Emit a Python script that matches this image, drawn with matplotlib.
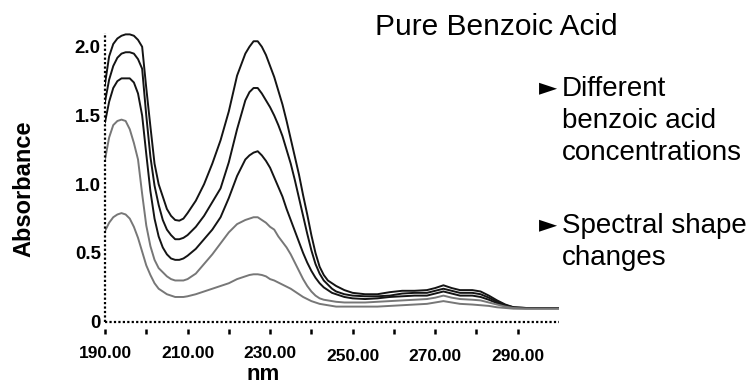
import matplotlib
matplotlib.use("Agg")
import matplotlib.pyplot as plt
import matplotlib.transforms as mtrans

plt.rcParams['font.family'] = ['Liberation Sans', 'DejaVu Sans']

# ---------------- data ----------------
wavelength = [190, 191, 192, 193, 194, 195, 196, 197, 198, 199, 200, 201, 202, 203, 204,
              205, 206, 207, 208, 209, 210,
              212, 214, 216, 218, 220, 222, 224,
              225, 226, 227, 228, 229, 230, 231, 232, 233, 234, 235, 236, 237, 238, 239,
              240, 241, 242, 243, 244, 245, 246,
              248,
              250, 253, 256, 259, 262, 265, 268, 270, 272, 274, 276, 279, 281, 283, 285,
              287, 289, 292, 296, 300]

conc_1 = [1.73, 1.93, 2.02, 2.06, 2.08, 2.09, 2.09, 2.08, 2.05, 2.00, 1.70, 1.42, 1.15, 1.00, 0.91,
          0.82, 0.77, 0.74, 0.735, 0.75, 0.79,
          0.88, 1.00, 1.15, 1.32, 1.53, 1.79, 1.95,
          2.00, 2.04, 2.04, 2.00, 1.94, 1.86, 1.78, 1.68, 1.58, 1.46, 1.33, 1.20, 1.07, 0.92, 0.78,
          0.63, 0.50, 0.40, 0.34, 0.30, 0.28, 0.26,
          0.23,
          0.21, 0.20, 0.20, 0.215, 0.225, 0.225, 0.23, 0.245, 0.265, 0.245, 0.23, 0.23, 0.22, 0.19, 0.155,
          0.125, 0.105, 0.10, 0.10, 0.10]

conc_2 = [1.60, 1.76, 1.86, 1.92, 1.95, 1.96, 1.96, 1.95, 1.91, 1.84, 1.50, 1.20, 0.99, 0.85, 0.74,
          0.67, 0.63, 0.60, 0.60, 0.61, 0.63,
          0.69, 0.77, 0.87, 0.97, 1.16, 1.40, 1.61,
          1.67, 1.70, 1.70, 1.66, 1.61, 1.56, 1.50, 1.43, 1.35, 1.25, 1.15, 1.03, 0.90, 0.77, 0.64,
          0.52, 0.42, 0.35, 0.30, 0.27, 0.24, 0.22,
          0.20,
          0.19, 0.185, 0.185, 0.19, 0.205, 0.21, 0.21, 0.225, 0.24, 0.225, 0.21, 0.21, 0.20, 0.175, 0.145,
          0.12, 0.105, 0.10, 0.10, 0.10]

conc_3 = [1.45, 1.60, 1.70, 1.75, 1.77, 1.77, 1.77, 1.74, 1.66, 1.50, 1.22, 0.95, 0.75, 0.62, 0.54,
          0.49, 0.46, 0.45, 0.45, 0.46, 0.48,
          0.53, 0.60, 0.67, 0.76, 0.90, 1.06, 1.18,
          1.21, 1.23, 1.24, 1.21, 1.17, 1.12, 1.05, 0.98, 0.91, 0.82, 0.74, 0.66, 0.58, 0.50, 0.43,
          0.37, 0.32, 0.28, 0.25, 0.23, 0.21, 0.20,
          0.18,
          0.17, 0.165, 0.17, 0.18, 0.185, 0.19, 0.19, 0.205, 0.22, 0.205, 0.19, 0.19, 0.18, 0.16, 0.135,
          0.115, 0.10, 0.10, 0.10, 0.10]

conc_4 = [1.18, 1.34, 1.43, 1.46, 1.47, 1.46, 1.40, 1.30, 1.18, 0.93, 0.70, 0.55, 0.45, 0.39, 0.36,
          0.33, 0.31, 0.30, 0.30, 0.30, 0.31,
          0.35, 0.42, 0.49, 0.57, 0.65, 0.71, 0.74,
          0.75, 0.76, 0.76, 0.74, 0.72, 0.69, 0.67, 0.62, 0.58, 0.54, 0.49, 0.43, 0.37, 0.31, 0.26,
          0.22, 0.19, 0.17, 0.16, 0.155, 0.15, 0.145,
          0.14,
          0.14, 0.14, 0.145, 0.15, 0.155, 0.16, 0.165, 0.175, 0.19, 0.175, 0.165, 0.16, 0.155, 0.14, 0.125,
          0.11, 0.10, 0.095, 0.095, 0.095]

conc_5 = [0.66, 0.72, 0.76, 0.78, 0.79, 0.78, 0.75, 0.69, 0.61, 0.51, 0.41, 0.34, 0.28, 0.24, 0.22,
          0.20, 0.19, 0.18, 0.18, 0.18, 0.185,
          0.20, 0.22, 0.24, 0.26, 0.28, 0.31, 0.33,
          0.34, 0.345, 0.345, 0.34, 0.33, 0.31, 0.30, 0.285, 0.27, 0.255, 0.24, 0.22, 0.20, 0.18, 0.165,
          0.15, 0.14, 0.13, 0.125, 0.12, 0.115, 0.11,
          0.11,
          0.11, 0.11, 0.11, 0.115, 0.12, 0.125, 0.13, 0.14, 0.15, 0.14, 0.13, 0.125, 0.12, 0.115, 0.105,
          0.10, 0.095, 0.095, 0.095, 0.095]

series = [conc_1, conc_2, conc_3, conc_4, conc_5]
series_colors = ['#141414', '#141414', '#141414', '#777777', '#777777']

x_major = [190, 210, 230, 250, 270, 290]
x_minor = [200, 220, 240, 260, 280]
x_labels = ['190.00', '210.00', '230.00', '250.00', '270.00', '290.00']
y_ticks = [0, 0.5, 1.0, 1.5, 2.0]
y_labels = ['0', '0.5', '1.0', '1.5', '2.0']

title = 'Pure Benzoic Acid'
bullets = [['Different', 'benzoic acid', 'concentrations'], ['Spectral shape', 'changes']]

# ---------------- figure ----------------
W, H = 753, 385
fig = plt.figure(figsize=(W / 100, H / 100), dpi=100)


def fx(px):
    return px / W


def fy(py):
    return 1 - py / H


ax = fig.add_axes([fx(105), fy(328.6), fx(559) - fx(105), fy(33) - fy(328.6)])
ax.set_xlim(190, 300)
ax.set_ylim(-0.05, 2.1)

for vals, col in zip(series, series_colors):
    ax.plot(wavelength, vals, color=col, lw=1.4, solid_joinstyle='round')

# dotted axis lines
ax.plot([190, 300], [0, 0], color='black', lw=1.6, linestyle=(0, (1, 1)), clip_on=False)
ax.plot([190, 190], [0, 2.1], color='black', lw=1.6, linestyle=(0, (1, 1)), clip_on=False)

for s in ax.spines.values():
    s.set_visible(False)

ax.set_xticks(x_major)
ax.set_xticklabels(x_labels)
ax.set_xticks(x_minor, minor=True)
ax.tick_params(axis='x', which='both', direction='out', length=3.5, width=1.8,
               color='black', pad=9)
ax.tick_params(axis='x', which='major', labelsize=12.5)
for lbl in ax.get_xticklabels():
    lbl.set_fontweight('bold')

ax.set_yticks(y_ticks)
ax.set_yticklabels(y_labels)
ax.tick_params(axis='y', length=0, pad=3, labelsize=13.5)
for lbl in ax.get_yticklabels():
    lbl.set_fontweight('bold')

# stagger of later x tick labels (slightly lower in the original)
for t in ax.xaxis.get_major_ticks()[3:]:
    t.label1.set_transform(t.label1.get_transform() +
                           mtrans.ScaledTranslation(0, -3 / 100, fig.dpi_scale_trans))

fig.text(fx(24), fy(189), 'Absorbance', rotation=90, ha='center', va='center',
         fontsize=17, fontweight='bold')
fig.text(fx(263), fy(380), 'nm', ha='center', va='baseline', fontsize=16, fontweight='bold')

fig.text(fx(375), fy(35), title, ha='left', va='baseline', fontsize=21.5)

line_gap = 32
bullet_tops = [96, 233]
for group, base in zip(bullets, bullet_tops):
    fig.text(fx(539), fy(base - 8.5), '\u25BA', ha='left', va='center', fontsize=17,
             family=['DejaVu Sans'])
    for i, line in enumerate(group):
        fig.text(fx(562), fy(base + i * line_gap), line, ha='left', va='baseline', fontsize=20)

fig.savefig('out.png', dpi=100)
